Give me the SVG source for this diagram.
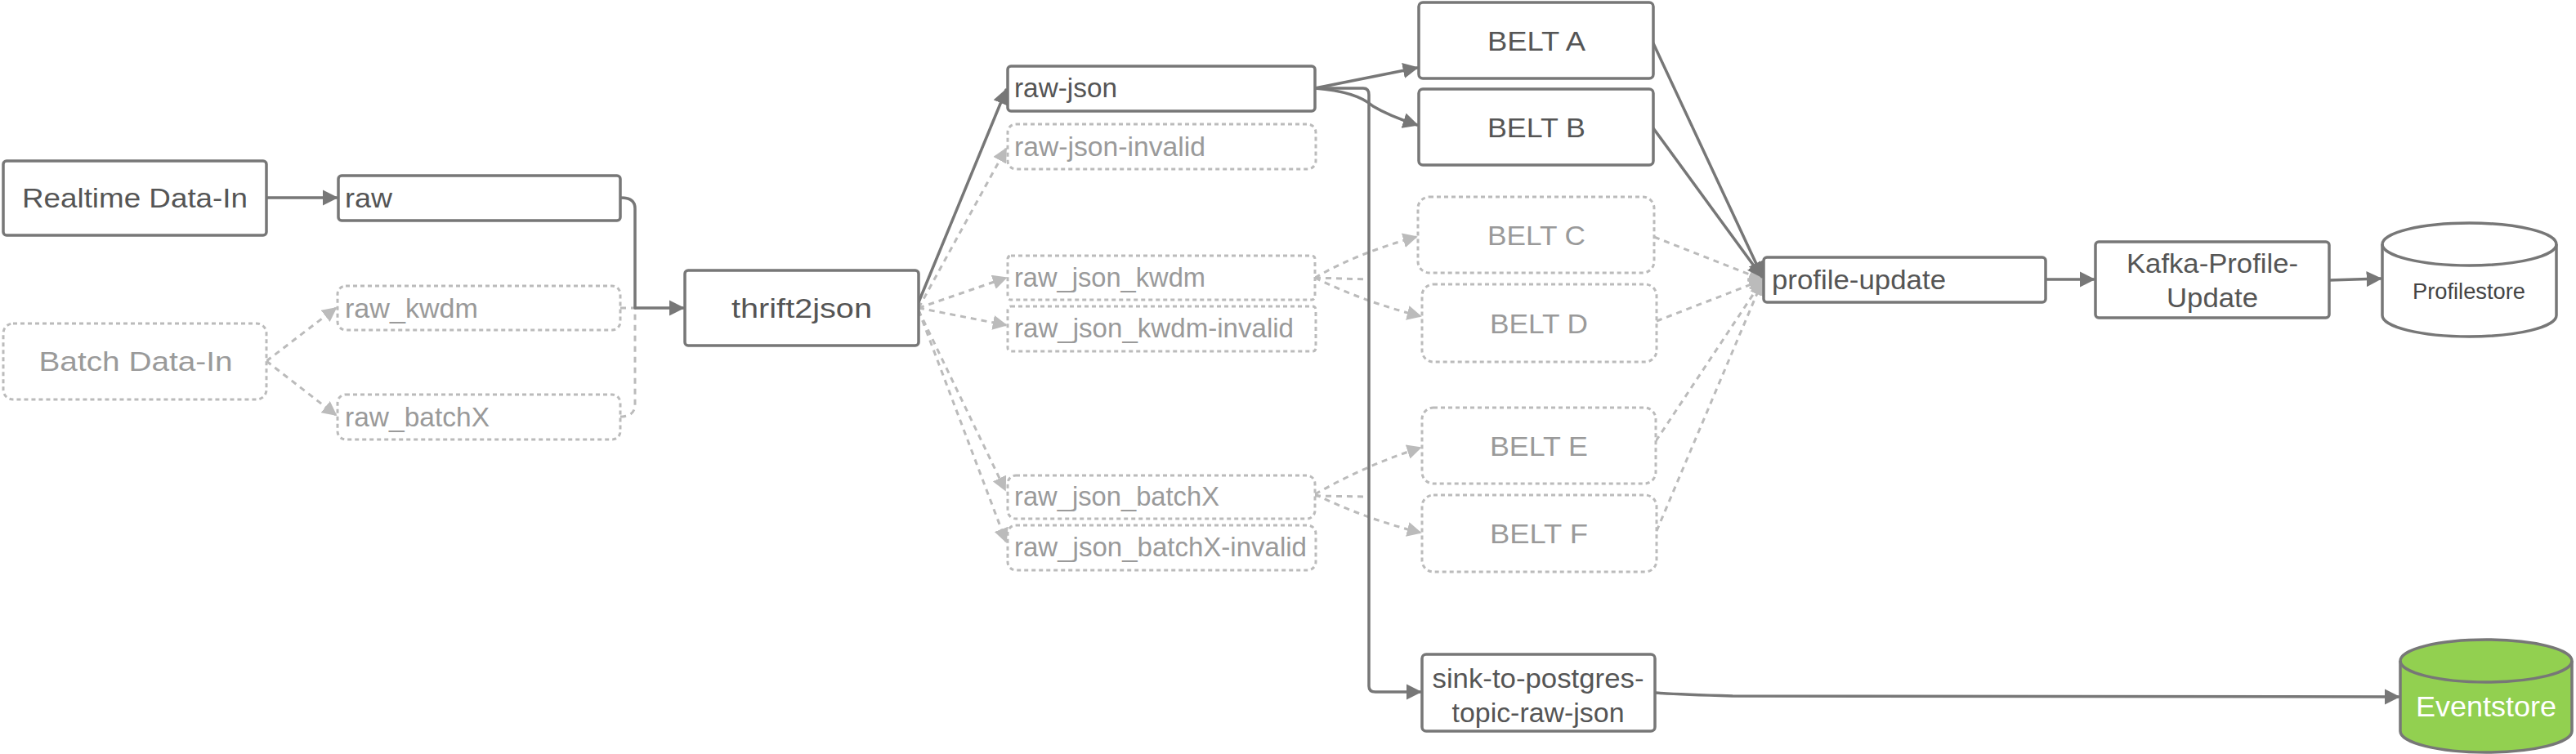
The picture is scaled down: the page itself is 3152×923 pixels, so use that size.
<svg xmlns="http://www.w3.org/2000/svg" width="3152" height="923" viewBox="0 0 3152 923">
<style>
.bg{fill:#ffffff}
.n{fill:#ffffff;stroke:#777777;stroke-width:3.5}
.nd{fill:#ffffff;stroke:#bbbbbb;stroke-width:3;stroke-dasharray:5 4}
.t{font-family:"Liberation Sans",Arial,sans-serif;font-size:34px;fill:#555555}
.td{font-family:"Liberation Sans",Arial,sans-serif;font-size:34px;fill:#9a9a9a}
.c{text-anchor:middle}
.e{fill:none;stroke:#777777;stroke-width:3.5;stroke-linejoin:round;stroke-linecap:round}
.ed{fill:none;stroke:#bbbbbb;stroke-width:3;stroke-dasharray:7 6}
</style>
<defs>
<marker id="a" viewBox="0 0 10 10" refX="9" refY="5" markerWidth="5.5" markerHeight="5.5" markerUnits="strokeWidth" orient="auto">
<path d="M0,0 L10,5 L0,10 z" fill="#777777"/>
</marker>
<marker id="ad" viewBox="0 0 10 10" refX="9" refY="5" markerWidth="6" markerHeight="6" markerUnits="strokeWidth" orient="auto">
<path d="M0,0 L10,5 L0,10 z" fill="#bbbbbb"/>
</marker>
</defs>
<rect class="bg" x="0" y="0" width="3152" height="923"/>

<g id="connectors">
<!-- dashed first -->
<path class="ed" d="M326,442 L411,377" marker-end="url(#ad)"/>
<path class="ed" d="M326,442 L411,508" marker-end="url(#ad)"/>
<path class="ed" d="M759,377 L777,377"/>
<path class="ed" d="M759,510 Q777,510 777,495 L777,377"/>
<path class="ed" d="M1124,377 L1231,182" marker-end="url(#ad)"/>
<path class="ed" d="M1124,377 L1231,340" marker-end="url(#ad)"/>
<path class="ed" d="M1124,377 L1231,398" marker-end="url(#ad)"/>
<path class="ed" d="M1124,380 L1230,600" marker-end="url(#ad)"/>
<path class="ed" d="M1124,380 L1231,663" marker-end="url(#ad)"/>
<path class="ed" d="M1609,340 L1675,342"/>
<path class="ed" d="M1609,607 L1675,608"/>
<path class="ed" d="M1609,340 Q1660,310 1733,290" marker-end="url(#ad)"/>
<path class="ed" d="M1609,340 Q1670,370 1738,387" marker-end="url(#ad)"/>
<path class="ed" d="M1609,605 Q1670,570 1738,548" marker-end="url(#ad)"/>
<path class="ed" d="M1609,605 Q1670,635 1738,652" marker-end="url(#ad)"/>
<path class="ed" d="M2024,290 L2156,342" marker-end="url(#ad)"/>
<path class="ed" d="M2027,393 L2156,343" marker-end="url(#ad)"/>
<path class="ed" d="M2026,540 L2156,344" marker-end="url(#ad)"/>
<path class="ed" d="M2027,650 L2156,345" marker-end="url(#ad)"/>
<!-- solid -->
<path class="e" d="M326,242 L412,242" marker-end="url(#a)"/>
<path class="e" d="M759,242 Q777,242 777,255 L777,377 L836,377" marker-end="url(#a)"/>
<path class="e" d="M1124,370 L1231,110" marker-end="url(#a)"/>
<path class="e" d="M1609,108 L1734,83" marker-end="url(#a)"/>
<path class="e" d="M1609,108 Q1660,112 1680,130 Q1700,142 1734,153" marker-end="url(#a)"/>
<path class="e" d="M1609,108 L1668,108 Q1675,108 1675,116 L1675,840 Q1675,847 1683,847 L1738,847" marker-end="url(#a)"/>
<path class="e" d="M2023,53 L2156,338" marker-end="url(#a)"/>
<path class="e" d="M2023,157 L2156,339" marker-end="url(#a)"/>
<path class="e" d="M2503,342 L2562,342" marker-end="url(#a)"/>
<path class="e" d="M2850,343 L2913,341" marker-end="url(#a)"/>
<path class="e" d="M2025,848 Q2050,850 2120,852 L2935,853" marker-end="url(#a)"/>
</g>

<g id="realtime">
<rect class="n" x="4" y="197" width="322" height="91" rx="4"/>
<text class="t c" x="165" y="254" textLength="276" lengthAdjust="spacingAndGlyphs">Realtime Data-In</text>
</g>
<g id="batch">
<rect class="nd" x="4" y="396" width="322" height="93" rx="12"/>
<text class="td c" x="166" y="454" textLength="237" lengthAdjust="spacingAndGlyphs">Batch Data-In</text>
</g>
<g id="raw">
<rect class="n" x="414" y="215" width="345" height="55" rx="4"/>
<text class="t" x="422" y="254" textLength="58" lengthAdjust="spacingAndGlyphs">raw</text>
</g>
<g id="raw_kwdm">
<rect class="nd" x="413" y="350" width="346" height="54" rx="10"/>
<text class="td" x="422" y="389" textLength="163" lengthAdjust="spacingAndGlyphs">raw_kwdm</text>
</g>
<g id="raw_batchX">
<rect class="nd" x="413" y="483" width="346" height="55" rx="10"/>
<text class="td" x="422" y="522" textLength="177" lengthAdjust="spacingAndGlyphs">raw_batchX</text>
</g>
<g id="thrift2json">
<rect class="n" x="838" y="331" width="286" height="92" rx="4"/>
<text class="t c" x="981" y="389" textLength="172" lengthAdjust="spacingAndGlyphs">thrift2json</text>
</g>
<g id="raw-json">
<rect class="n" x="1233" y="81" width="376" height="55" rx="4"/>
<text class="t" x="1241" y="119" textLength="126" lengthAdjust="spacingAndGlyphs">raw-json</text>
</g>
<g id="raw-json-invalid">
<rect class="nd" x="1233" y="152" width="377" height="55" rx="10"/>
<text class="td" x="1241" y="191" textLength="234" lengthAdjust="spacingAndGlyphs">raw-json-invalid</text>
</g>
<g id="raw_json_kwdm">
<rect class="nd" x="1233" y="313" width="376" height="54" rx="4"/>
<text class="td" x="1241" y="351" textLength="234" lengthAdjust="spacingAndGlyphs">raw_json_kwdm</text>
</g>
<g id="raw_json_kwdm-invalid">
<rect class="nd" x="1233" y="375" width="377" height="55" rx="4"/>
<text class="td" x="1241" y="413" textLength="342" lengthAdjust="spacingAndGlyphs">raw_json_kwdm-invalid</text>
</g>
<g id="raw_json_batchX">
<rect class="nd" x="1233" y="582" width="376" height="53" rx="10"/>
<text class="td" x="1241" y="619" textLength="251" lengthAdjust="spacingAndGlyphs">raw_json_batchX</text>
</g>
<g id="raw_json_batchX-invalid">
<rect class="nd" x="1233" y="643" width="377" height="55" rx="10"/>
<text class="td" x="1241" y="681" textLength="358" lengthAdjust="spacingAndGlyphs">raw_json_batchX-invalid</text>
</g>
<g id="belt-a">
<rect class="n" x="1736" y="3" width="287" height="93" rx="5"/>
<text class="t c" x="1880" y="62" textLength="120" lengthAdjust="spacingAndGlyphs">BELT A</text>
</g>
<g id="belt-b">
<rect class="n" x="1736" y="109" width="287" height="93" rx="5"/>
<text class="t c" x="1880" y="168" textLength="120" lengthAdjust="spacingAndGlyphs">BELT B</text>
</g>
<g id="belt-c">
<rect class="nd" x="1735" y="241" width="289" height="93" rx="14"/>
<text class="td c" x="1880" y="300" textLength="120" lengthAdjust="spacingAndGlyphs">BELT C</text>
</g>
<g id="belt-d">
<rect class="nd" x="1740" y="348" width="287" height="95" rx="14"/>
<text class="td c" x="1883" y="408" textLength="120" lengthAdjust="spacingAndGlyphs">BELT D</text>
</g>
<g id="belt-e">
<rect class="nd" x="1740" y="499" width="286" height="93" rx="14"/>
<text class="td c" x="1883" y="558" textLength="120" lengthAdjust="spacingAndGlyphs">BELT E</text>
</g>
<g id="belt-f">
<rect class="nd" x="1740" y="606" width="287" height="94" rx="14"/>
<text class="td c" x="1883" y="665" textLength="120" lengthAdjust="spacingAndGlyphs">BELT F</text>
</g>
<g id="sink">
<rect class="n" x="1740" y="801" width="285" height="94" rx="5"/>
<text class="t c" x="1882" y="842" textLength="259" lengthAdjust="spacingAndGlyphs">sink-to-postgres-</text>
<text class="t c" x="1882" y="884" textLength="211" lengthAdjust="spacingAndGlyphs">topic-raw-json</text>
</g>
<g id="profile-update">
<rect class="n" x="2158" y="315" width="345" height="55" rx="4"/>
<text class="t" x="2168" y="354" textLength="213" lengthAdjust="spacingAndGlyphs">profile-update</text>
</g>
<g id="kafka-profile-update">
<rect class="n" x="2564" y="296" width="286" height="93" rx="4"/>
<text class="t c" x="2707" y="334" textLength="210" lengthAdjust="spacingAndGlyphs">Kafka-Profile-</text>
<text class="t c" x="2707" y="376" textLength="112" lengthAdjust="spacingAndGlyphs">Update</text>
</g>
<g id="profilestore">
<path class="n" d="M2915,299 A106.5,26 0 0,1 3128,299 L3128,386 A106.5,26 0 0,1 2915,386 Z"/>
<path class="n" style="fill:none" d="M2915,299 A106.5,26 0 0,0 3128,299"/>
<text class="t c" x="3021" y="366" style="font-size:27px;fill:#444444" textLength="138" lengthAdjust="spacingAndGlyphs">Profilestore</text>
</g>
<g id="eventstore">
<path class="n" style="fill:#92d050" d="M2937,809 A105,26 0 0,1 3147,809 L3147,895 A105,26 0 0,1 2937,895 Z"/>
<path class="n" style="fill:none" d="M2937,809 A105,26 0 0,0 3147,809"/>
<text class="t c" x="3042" y="877" style="font-size:35px;fill:#ffffff" textLength="172" lengthAdjust="spacingAndGlyphs">Eventstore</text>
</g>
</svg>
